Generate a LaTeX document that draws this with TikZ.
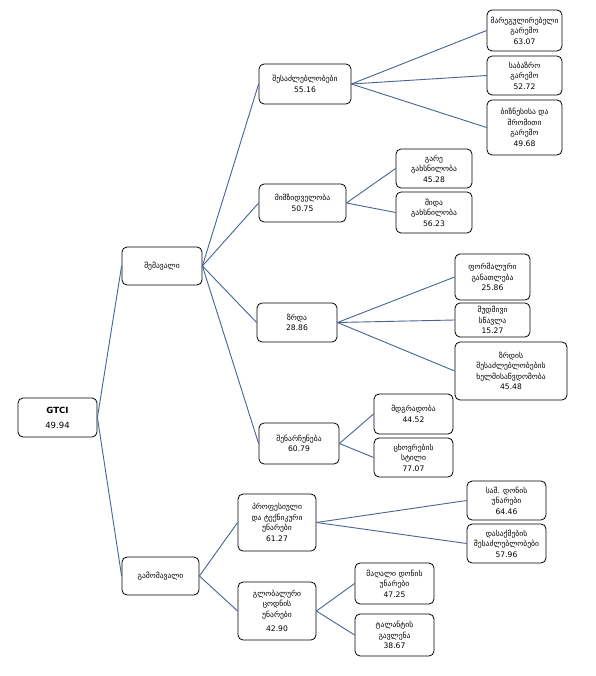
\documentclass[tikz,border=0pt]{standalone}
\usepackage{fontspec}
\setmainfont{DejaVu Sans}
\begin{document}
\begin{tikzpicture}[x=1pt,y=-1pt,
  box/.style={draw=black, line width=0.8pt, rounded corners=5pt, align=center,
    inner sep=1pt, font=\fontsize{7.6}{10.5}\selectfont},
  link/.style={draw={rgb,255:red,70;green,100;blue,150}, line width=0.9pt}]
\useasboundingbox[fill=white] (0,0) rectangle (595,676);
% root
\node[box, minimum width=79pt, minimum height=39pt, font=\fontsize{8.5}{11}\selectfont] (gtci) at (57.5,417.5) {\textbf{GTCI}\\[4pt]49.94};
% level 1
\node[box, minimum width=80pt, minimum height=38pt] (in) at (162,266) {შემავალი};
\node[box, minimum width=77pt, minimum height=38pt] (out) at (160.5,576) {გამომავალი};
% level 2
\node[box, minimum width=92pt, minimum height=40pt] (p1) at (305,84) {შესაძლებლობები\\55.16};
\node[box, minimum width=87pt, minimum height=38pt] (p2) at (302.5,203) {მიმზიდველობა\\50.75};
\node[box, minimum width=80pt, minimum height=39pt] (p3) at (297,322.5) {ზრდა\\28.86};
\node[box, minimum width=80pt, minimum height=41pt] (p4) at (299,443.5) {შენარჩუნება\\60.79};
\node[box, minimum width=78pt, minimum height=57pt] (p5) at (277,522.5) {პროფესიული\\და ტექნიკური\\უნარები\\61.27};
\node[box, minimum width=78pt, minimum height=58pt] (p6) at (277,611) {გლობალური\\ცოდნის\\უნარები\\[4pt]42.90};
% level 3
\node[box, minimum width=75pt, minimum height=41pt] (s1) at (524.5,30.5) {მარეგულირებელი\\გარემო\\63.07};
\node[box, minimum width=75pt, minimum height=39pt] (s2) at (524.5,75.5) {საბაზრო\\გარემო\\52.72};
\node[box, minimum width=75pt, minimum height=55pt] (s3) at (524.5,127.5) {ბიზნესისა და\\შრომითი\\გარემო\\49.68};
\node[box, minimum width=76pt, minimum height=39pt] (s4) at (434,168.5) {გარე\\გახსნილობა\\45.28};
\node[box, minimum width=76pt, minimum height=41pt] (s5) at (434,212.5) {შიდა\\გახსნილობა\\56.23};
\node[box, minimum width=75pt, minimum height=46pt] (s6) at (492.5,277) {ფორმალური\\განათლება\\25.86};
\node[box, minimum width=75pt, minimum height=34pt] (s7) at (492.5,320) {მუდმივი\\სწავლა\\15.27};
\node[box, minimum width=112pt, minimum height=58pt] (s8) at (511,371) {ზრდის\\შესაძლებლობების\\ხელმისაწვდომობა\\45.48};
\node[box, minimum width=79pt, minimum height=40pt] (s9) at (413.5,414) {მდგრადობა\\44.52};
\node[box, minimum width=79pt, minimum height=39pt] (s10) at (413.5,457.5) {ცხოვრების\\სტილი\\77.07};
\node[box, minimum width=79pt, minimum height=39pt] (s11) at (506.5,500.5) {საშ. დონის\\უნარები\\64.46};
\node[box, minimum width=79pt, minimum height=39pt] (s12) at (506.5,543.5) {დასაქმების\\შესაძლებლობები\\57.96};
\node[box, minimum width=79pt, minimum height=41pt] (s13) at (394.5,583.5) {მაღალი დონის\\უნარები\\47.25};
\node[box, minimum width=79pt, minimum height=42pt] (s14) at (394.5,635) {ტალანტის\\გავლენა\\38.67};
% connectors
\draw[link] (gtci.east) -- (in.west);
\draw[link] (gtci.east) -- (out.west);
\foreach \c in {p1,p2,p3,p4} \draw[link] (in.east) -- (\c.west);
\foreach \c in {p5,p6} \draw[link] (out.east) -- (\c.west);
\foreach \c in {s1,s2,s3} \draw[link] (p1.east) -- (\c.west);
\foreach \c in {s4,s5} \draw[link] (p2.east) -- (\c.west);
\foreach \c in {s6,s7,s8} \draw[link] (p3.east) -- (\c.west);
\foreach \c in {s9,s10} \draw[link] (p4.east) -- (\c.west);
\foreach \c in {s11,s12} \draw[link] (p5.east) -- (\c.west);
\foreach \c in {s13,s14} \draw[link] (p6.east) -- (\c.west);
\end{tikzpicture}
\end{document}
